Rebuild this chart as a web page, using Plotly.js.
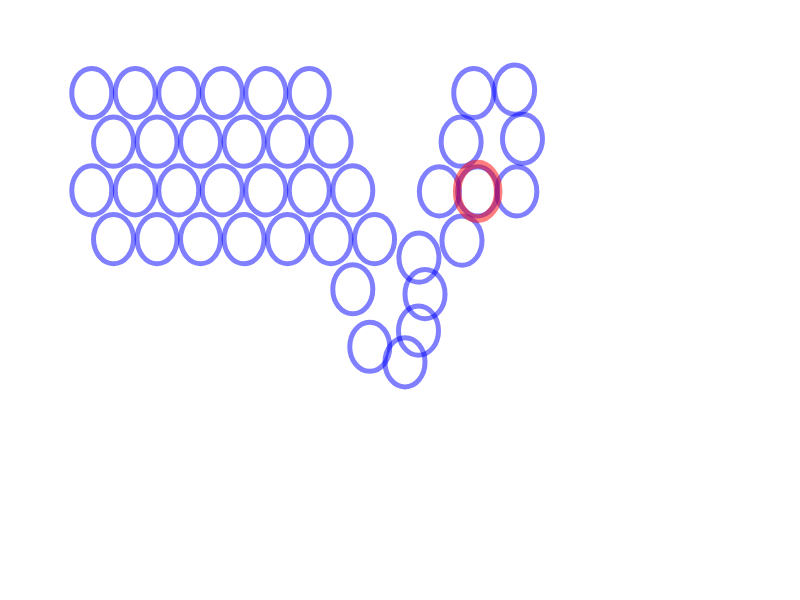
<!DOCTYPE html>
<html>
<head>
<meta charset="utf-8">
<script src="https://cdn.plot.ly/plotly-3.0.1.min.js"></script>
<style>html,body{margin:0;padding:0;background:#fff}#chart{width:800px;height:600px}</style>
</head>
<body>
<div id="chart"></div>
<script>
// Centres of the blue rings (hex-grid units; y grows downward)
const blueX = [
  0, 1, 2, 3, 4, 5,
  0.5, 1.5, 2.5, 3.5, 4.5, 5.5,
  0, 1, 2, 3, 4, 5, 6,
  0.5, 1.5, 2.5, 3.5, 4.5, 5.5, 6.5,
  8.78, 9.72, 8.49, 9.90, 7.99, 8.87, 9.77, 8.51,
  7.52, 6.00, 7.66, 7.51, 6.39, 7.20
];
const blueY = [
  0, 0, 0, 0, 0, 0,
  1, 1, 1, 1, 1, 1,
  2, 2, 2, 2, 2, 2, 2,
  3, 3, 3, 3, 3, 3, 3,
  0.0, -0.07, 1.0, 0.94, 2.02, 2.02, 2.02, 3.03,
  3.38, 4.03, 4.13, 4.88, 5.21, 5.53
];
// Highlighted ring
const redX = [8.87];
const redY = [2.02];

const blueRx = 0.46, blueRy = 0.505;
const redRx = 0.472, redRy = 0.56;

const shapes = [];
blueX.forEach((cx, i) => {
  const cy = blueY[i];
  shapes.push({
    type: 'circle', xref: 'x', yref: 'y',
    x0: cx - blueRx, x1: cx + blueRx, y0: cy - blueRy, y1: cy + blueRy,
    line: {color: 'rgba(0,0,255,0.5)', width: 5},
    fillcolor: 'rgba(0,0,0,0)'
  });
});
redX.forEach((cx, i) => {
  const cy = redY[i];
  shapes.push({
    type: 'circle', xref: 'x', yref: 'y',
    x0: cx - redRx, x1: cx + redRx, y0: cy - redRy, y1: cy + redRy,
    line: {color: 'rgba(255,0,0,0.5)', width: 8.5},
    fillcolor: 'rgba(0,0,0,0)'
  });
});

const trace = {
  x: blueX.concat(redX), y: blueY.concat(redY),
  type: 'scatter', mode: 'markers',
  marker: {opacity: 0}, hoverinfo: 'skip', showlegend: false
};

const layout = {
  width: 800, height: 600,
  margin: {l: 0, r: 0, t: 0, b: 0},
  paper_bgcolor: '#fff', plot_bgcolor: '#fff',
  xaxis: {range: [-2.110, 16.280], visible: false, showgrid: false, zeroline: false},
  yaxis: {range: [10.411, -1.910], visible: false, showgrid: false, zeroline: false},
  shapes: shapes,
  showlegend: false
};

Plotly.newPlot('chart', [trace], layout, {displayModeBar: false, staticPlot: true});
</script>
</body>
</html>
